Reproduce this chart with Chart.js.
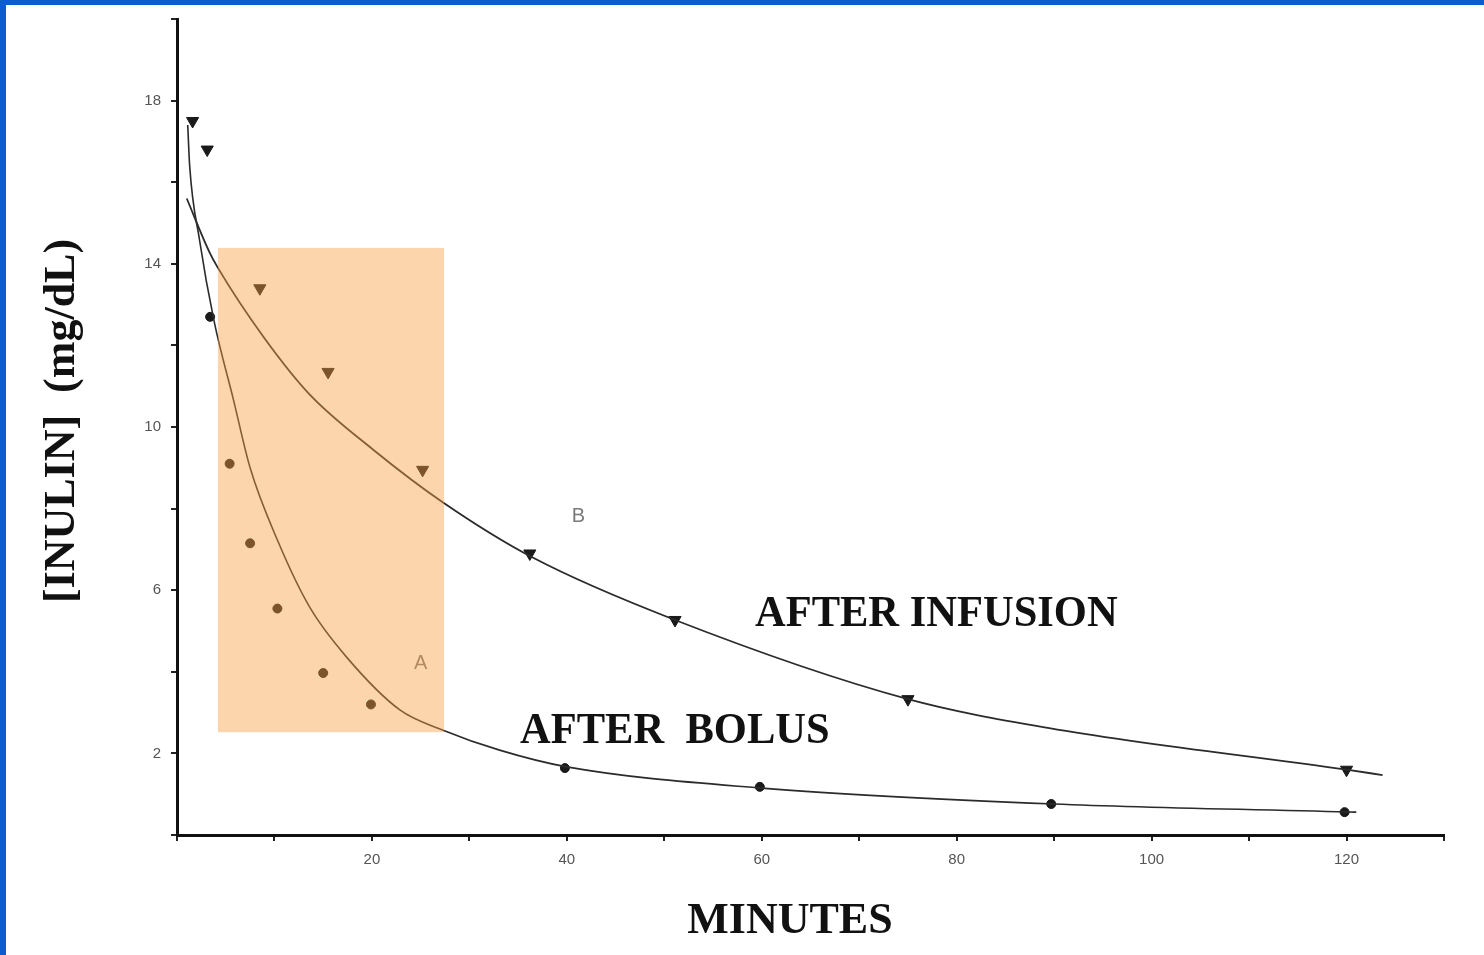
<!DOCTYPE html>
<html>
<head>
<meta charset="utf-8">
<script src="https://cdn.jsdelivr.net/npm/chart.js@4.4.1/dist/chart.umd.min.js"></script>
<style>
  html, body { margin: 0; padding: 0; background: #ffffff; }
  canvas { display: block; }
</style>
</head>
<body>
<canvas id="inulinChart" width="1484" height="955"></canvas>
<script>
// Measured points (minutes, mg/dL)
const infusionMinutes = [1.6, 3.1, 8.5, 15.5, 25.2, 36.2, 51.1, 75.0, 120];
const infusionValues  = [17.5, 16.8, 13.4, 11.35, 8.95, 6.9, 5.27, 3.33, 1.6];
const bolusMinutes = [3.4, 5.4, 7.5, 10.3, 15.0, 19.9, 39.8, 59.8, 89.7, 119.8];
const bolusValues  = [12.7, 9.1, 7.15, 5.55, 3.97, 3.2, 1.64, 1.18, 0.76, 0.56];

// Fitted curves
const infusionCurveMinutes = [1.0, 3.3, 4.2, 8.9, 13.6, 20.1, 27.3, 36.5, 51.1, 75.0, 89.5, 120, 123.7];
const infusionCurveValues  = [15.6, 14.3, 13.9, 12.2, 10.8, 9.45, 8.15, 6.8, 5.27, 3.33, 2.62, 1.6, 1.47];
const bolusCurveMinutes = [1.1, 1.3, 2.3, 3.8, 5.8, 7.5, 10.3, 13.6, 17.4, 22.9, 27.3, 33.1, 40, 60, 90, 121];
const bolusCurveValues  = [17.4, 16.4, 14.6, 12.6, 10.66, 9.0, 7.23, 5.59, 4.36, 3.06, 2.57, 2.08, 1.67, 1.15, 0.76, 0.56];

// Axis ticks
const xLabelTicks = [20, 40, 60, 80, 100, 120];
const yLabelTicks = [2, 6, 10, 14, 18];

// Highlighted window (minutes / mg/dL)
const boxMinutes = [4.2, 27.4];
const boxValues = [2.52, 14.39];

const toXY = (xs, ys) => xs.map((x, i) => ({ x: x, y: ys[i] }));

const overlay = {
  id: 'overlay',
  beforeDraw(chart) {
    const ctx = chart.ctx;
    ctx.save();
    ctx.fillStyle = '#ffffff';
    ctx.fillRect(0, 0, chart.width, chart.height);
    ctx.fillStyle = '#0b5cd0';
    ctx.fillRect(0, 0, 6, chart.height);
    ctx.fillRect(0, 0, chart.width, 5);
    ctx.restore();
  },
  afterDatasetsDraw(chart) {
    const ctx = chart.ctx;
    const xs = chart.scales.x, ys = chart.scales.y;
    const px = v => xs.getPixelForValue(v);
    const py = v => ys.getPixelForValue(v);

    ctx.save();
    // curve letters
    ctx.fillStyle = '#7a7a7a';
    ctx.font = '20px "Liberation Sans"';
    ctx.textAlign = 'center';
    ctx.textBaseline = 'middle';
    ctx.fillText('A', px(25), py(4.2));
    ctx.fillText('B', px(41.2), py(7.8));

    // orange highlight
    ctx.fillStyle = 'rgba(250,159,68,0.44)';
    const x0 = px(boxMinutes[0]), x1 = px(boxMinutes[1]);
    const y0 = py(boxValues[1]), y1 = py(boxValues[0]);
    ctx.fillRect(x0, y0, x1 - x0, y1 - y0);

    // series labels
    ctx.fillStyle = '#111';
    ctx.font = 'bold 45px "Liberation Serif"';
    ctx.textAlign = 'left';
    ctx.textBaseline = 'alphabetic';
    const label = (text, x, y) => {
      ctx.save();
      ctx.translate(px(x), py(y));
      ctx.scale(0.945, 1);
      ctx.fillText(text, 0, 0);
      ctx.restore();
    };
    label('AFTER INFUSION', 59.3, 5.12);
    label('AFTER  BOLUS', 35.2, 2.25);

    // axis titles
    ctx.font = 'bold 44px "Liberation Serif"';
    ctx.textAlign = 'center';
    ctx.textBaseline = 'middle';
    ctx.fillText('MINUTES', 790, 922);
    ctx.save();
    ctx.translate(63, 421);
    ctx.rotate(-Math.PI / 2);
    ctx.fillText('[INULIN]  (mg/dL)', 0, 0);
    ctx.restore();
    ctx.restore();
  }
};

new Chart(document.getElementById('inulinChart').getContext('2d'), {
  type: 'line',
  data: {
    datasets: [
      {
        data: toXY(bolusCurveMinutes, bolusCurveValues),
        borderColor: '#2b2b2b',
        borderWidth: 1.6,
        pointRadius: 0,
        cubicInterpolationMode: 'monotone',
        fill: false
      },
      {
        data: toXY(infusionCurveMinutes, infusionCurveValues),
        borderColor: '#2b2b2b',
        borderWidth: 1.8,
        pointRadius: 0,
        cubicInterpolationMode: 'monotone',
        fill: false
      },
      {
        data: toXY(infusionMinutes, infusionValues),
        showLine: false,
        pointStyle: 'triangle',
        rotation: 180,
        pointRadius: 7,
        pointBackgroundColor: '#1a1a1a',
        pointBorderColor: '#1a1a1a'
      },
      {
        data: toXY(bolusMinutes, bolusValues),
        showLine: false,
        pointStyle: 'circle',
        pointRadius: 4.5,
        pointBackgroundColor: '#1a1a1a',
        pointBorderColor: '#1a1a1a'
      }
    ]
  },
  options: {
    responsive: false,
    animation: false,
    layout: { padding: { top: 19, right: 40, left: 0, bottom: 0 } },
    plugins: { legend: { display: false }, tooltip: { enabled: false } },
    scales: {
      x: {
        type: 'linear',
        min: 0,
        max: 130,
        afterFit: s => { s.height = 120; },
        ticks: {
          stepSize: 10,
          autoSkip: false,
          maxRotation: 0,
          padding: 10,
          color: '#555',
          font: { family: 'Liberation Sans', size: 15 },
          callback: v => xLabelTicks.includes(v) ? v : ''
        },
        grid: { drawOnChartArea: false, tickLength: 6, color: '#222', lineWidth: 2 },
        border: { color: '#111', width: 3 }
      },
      y: {
        min: 0,
        max: 20,
        afterFit: s => { s.width = 177; },
        ticks: {
          stepSize: 2,
          autoSkip: false,
          padding: 10,
          color: '#555',
          font: { family: 'Liberation Sans', size: 15 },
          callback: v => yLabelTicks.includes(v) ? v : ''
        },
        grid: { drawOnChartArea: false, tickLength: 6, color: '#222', lineWidth: 2 },
        border: { color: '#111', width: 3 }
      }
    }
  },
  plugins: [overlay]
});
</script>
</body>
</html>
